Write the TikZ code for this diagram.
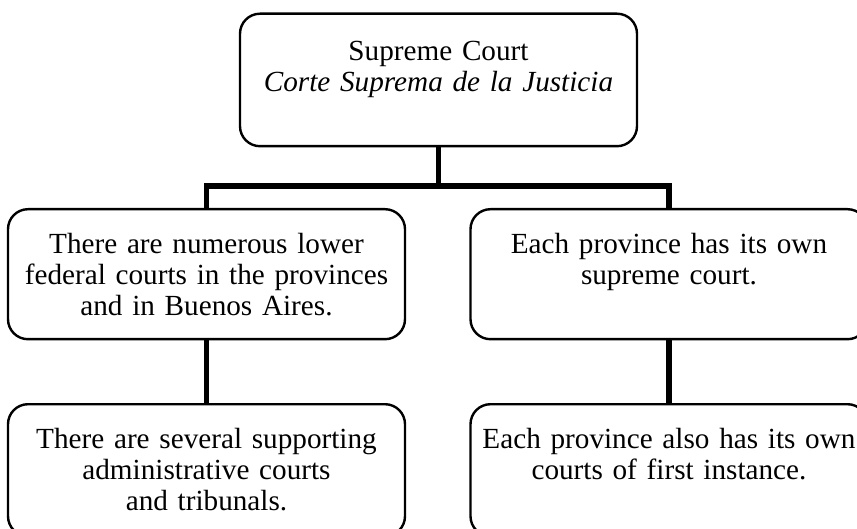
\documentclass[tikz,border=0pt]{standalone}
\usepackage{fontspec}
\setmainfont{Liberation Serif}

\begin{document}
\begin{tikzpicture}[x = 0.5pt, y = -0.5pt,
	court/.style = {draw, line width = 1.2pt, rounded corners = 10pt, anchor = north,
		text width = 190pt, inner xsep = 4.25pt, inner ysep = 0pt, align = center,
		font = \fontsize{14.6}{15.5}\selectfont},
	link/.style = {line width = 2.6pt}]

\useasboundingbox (0,0) rectangle (857,529);
\clip (0,0) rectangle (857,529);

\node[court, text height = 23.5pt, text depth = 42.75pt] (top) at (438.5, 12.5)
	{Supreme Court\\ \textit{Corte Suprema de la Justicia}};

\node[court, text height = 22pt, text depth = 43pt] (fed) at (206.5, 208)
	{There are numerous lower\\ federal courts in the provinces\\ and in Buenos Aires.};
\node[court, text height = 22pt, text depth = 43pt] (prov) at (669, 208)
	{Each province has its own\\ supreme court.};

\node[court, text height = 22pt, text depth = 44pt] (adm) at (206.5, 403)
	{There are several supporting\\ administrative courts\\ and tribunals.};
\node[court, text height = 22pt, text depth = 44pt] (inst) at (669, 403)
	{Each province also has its own\\ courts of first instance.};

\coordinate (bar) at (438.5, 186);

\draw[link] (top.south) -- (top.south |- bar);
\draw[link] (fed.north) -- (fed.north |- bar) -- (prov.north |- bar) -- (prov.north);
\draw[link] (fed.south) -- (adm.north);
\draw[link] (prov.south) -- (inst.north);

\end{tikzpicture}
\end{document}
